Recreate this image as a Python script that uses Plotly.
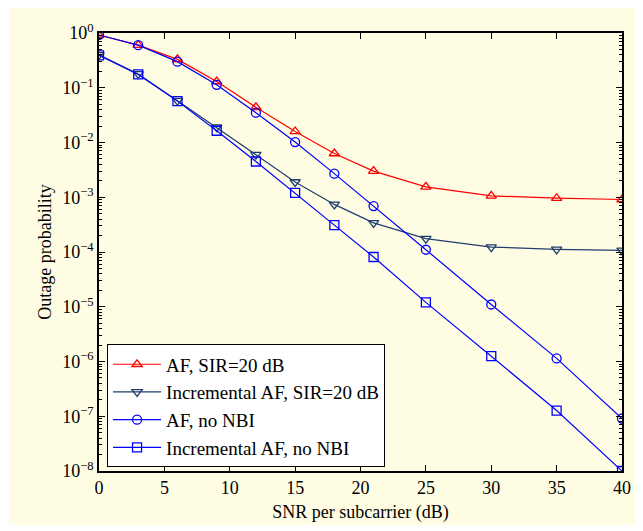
import plotly.graph_objects as go

snr = [0, 3, 6, 9, 12, 15, 18, 21, 25, 30, 35, 40]
af_sir20 = [0.92, 0.60, 0.33, 0.13, 0.044, 0.0159, 0.0063, 0.0030, 0.00155, 0.00106, 0.00096, 0.00091]
inc_af_sir20 = [0.40, 0.179, 0.058, 0.019, 0.0060, 0.0019, 0.00074, 0.00034, 0.000175, 0.000123, 0.000112, 0.000107]
af_no_nbi = [0.92, 0.60, 0.30, 0.113, 0.035, 0.0102, 0.0027, 0.00069, 1.1e-4, 1.1e-5, 1.14e-6, 9.1e-8]
inc_af_no_nbi = [0.39, 0.175, 0.057, 0.0164, 0.0045, 0.0012, 0.00031, 8.1e-5, 1.2e-5, 1.25e-6, 1.27e-7, 1.0e-8]

names = ["AF, SIR=20 dB", "Incremental AF, SIR=20 dB", "AF, no NBI", "Incremental AF, no NBI"]
series = [af_sir20, inc_af_sir20, af_no_nbi, inc_af_no_nbi]
colors = ["#ff0000", "#1f3d6e", "#0000ff", "#0000ff"]
symbols = ["triangle-up-open", "triangle-down-open", "circle-open", "square-open"]

x_ticks = [0, 5, 10, 15, 20, 25, 30, 35, 40]
y_exps = [0, -1, -2, -3, -4, -5, -6, -7, -8]

FONT = "Liberation Serif, Times New Roman, serif"

fig = go.Figure()
for name, ys, c, s in zip(names, series, colors, symbols):
    fig.add_trace(go.Scatter(
        x=snr, y=ys, name=name, mode="lines+markers",
        line=dict(color=c, width=1.2),
        marker=dict(symbol=s, size=9, color=c, line=dict(width=1.3, color=c)),
    ))

minor_vals = [m * 10.0 ** e for e in range(-8, 0) for m in range(2, 10)]

# page body has an 8px margin; size the figure so the plot area lands at
# x 99..617, y 33..472 in the window
fig.update_layout(
    width=635, height=523,
    margin=dict(l=91, r=18, t=25, b=51),
    paper_bgcolor="white",
    plot_bgcolor="white",
    font=dict(family=FONT, size=18, color="black"),
    showlegend=True,
    legend=dict(
        x=0.0154, y=0.289, xanchor="left", yanchor="top",
        bgcolor="white", bordercolor="black", borderwidth=1,
        font=dict(family=FONT, size=19, color="black"),
        tracegroupgap=0, itemwidth=48,
    ),
    shapes=[dict(
        type="rect", xref="paper", yref="paper",
        x0=-0.1718, x1=1.0347, y0=-0.123, y1=1.2,
        fillcolor="#fefde3", line=dict(width=0), layer="below",
    )],
)

fig.update_xaxes(
    range=[0, 40], tickvals=x_ticks, ticktext=[str(v) for v in x_ticks],
    ticks="inside", ticklen=6, tickwidth=1, tickcolor="black",
    showline=True, linecolor="black", linewidth=1.5, mirror="allticks",
    showgrid=False, zeroline=False,
    title=dict(text="SNR per subcarrier (dB)", standoff=8, font=dict(size=18)),
    tickfont=dict(size=18),
)
fig.update_yaxes(
    type="log", range=[-8, 0],
    tickvals=[10.0 ** e for e in y_exps],
    ticktext=["10<sup>%s</sup>" % (str(e).replace("-", "\u2212")) for e in y_exps],
    ticks="inside", ticklen=6, tickwidth=1, tickcolor="black",
    minor=dict(tickvals=minor_vals, ticks="inside", ticklen=3, tickcolor="black", showgrid=False),
    showline=True, linecolor="black", linewidth=1.5, mirror="allticks",
    showgrid=False, zeroline=False,
    title=dict(text="Outage probability", standoff=6, font=dict(size=18)),
    tickfont=dict(size=18),
)

fig.write_html("out.html")
